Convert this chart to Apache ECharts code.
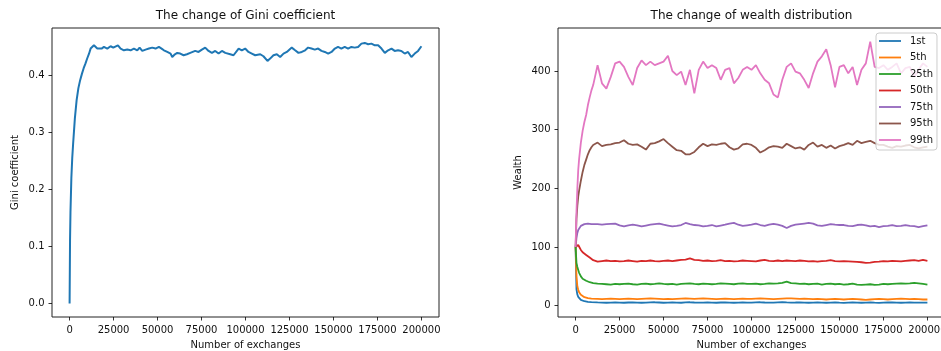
<!DOCTYPE html>
<html><head><meta charset="utf-8">
<script src="https://cdn.jsdelivr.net/npm/echarts@6/dist/echarts.min.js"></script>
<style>html,body{margin:0;padding:0;background:#fff}#c{width:941px;height:351px}</style>
</head><body><div id="c"></div>
<script>
// ---------- data ----------
const titles = ['The change of Gini coefficient', 'The change of wealth distribution'];
const xAxisName = 'Number of exchanges';
const giniAxisName = 'Gini coefficient';
const wealthAxisName = 'Wealth';

const xTicks = [0, 25000, 50000, 75000, 100000, 125000, 150000, 175000, 200000];
const xTickLabels = ['0', '25000', '50000', '75000', '100000', '125000', '150000', '175000', '200000'];
const giniTicks = [0, 0.1, 0.2, 0.3, 0.4];
const giniTickLabels = ['0.0', '0.1', '0.2', '0.3', '0.4'];
const wealthTicks = [0, 100, 200, 300, 400];
const wealthTickLabels = ['0', '100', '200', '300', '400'];

const giniX = [0,250,500,1000,1500,2000,3000,4000,5000,6000,7000,8000,9000,10000,11000,
 11950,13840,15740,16690,18200,19530,21420,23310,24830,27480,29000,30890,32790,34680,36570,38470,39790,41310,43200,45100,46990,48880,50780,52290,53620,55510,57410,58350,59870,61190,
 62900,64800,66700,68600,71400,73300,75200,77100,79000,80900,82800,84700,86600,88500,91300,93200,96100,97900,99800,101700,103600,105500,108400,110200,112500,114000,115900,117800,119700,121600,123500,126300,128200,130100,132000,133900,
 135600,137500,139400,141300,143200,145100,147000,148900,150800,152600,154500,156400,158300,160200,162100,164000,165900,167800,169700,171600,173500,175400,177300,179200,181100,183000,184800,186700,188600,190500,192400,194300,196200,198100,200000];
const giniY = [0,0.11,0.16,0.22,0.255,0.28,0.325,0.357,0.378,0.392,0.403,0.413,0.421,0.43,0.438,
 0.4474,0.4532,0.4474,0.4503,0.4474,0.4503,0.4474,0.4515,0.4491,0.4532,0.4474,0.4444,0.4456,0.4444,0.4474,0.4444,0.4491,0.4433,0.4456,0.4474,0.4491,0.4474,0.4503,0.4474,0.4444,0.4415,0.4386,0.4327,0.4374,0.4398,
 0.4386,0.4357,0.4374,0.4398,0.4433,0.4415,0.4456,0.4491,0.4433,0.4398,0.4433,0.4386,0.4433,0.4398,0.4374,0.4357,0.4474,0.4444,0.4474,0.4415,0.4386,0.4357,0.4374,0.4339,0.4257,0.4298,0.4357,0.4374,0.4327,0.4386,0.4415,0.4491,0.4444,0.4398,0.4415,0.4444,
 0.4491,0.4474,0.4456,0.4474,0.4433,0.4415,0.4386,0.4415,0.4474,0.4503,0.4474,0.4503,0.4474,0.4503,0.4491,0.4503,0.4561,0.4573,0.4550,0.4561,0.4532,0.4532,0.4474,0.4398,0.4444,0.4474,0.4433,0.4444,0.4433,0.4386,0.4415,0.4327,0.4386,0.4433,0.4515];

const wealthX = [0,500,1000,1500,2000,3000,4000,5000,6000,7000,8000,9000,10000,
 12500,15000,17500,20000,22500,25000,27500,30000,32500,35000,37500,40000,42500,45000,47500,50000,52500,55000,57500,60000,62500,65000,67500,70000,72500,75000,77500,80000,82500,85000,87500,90000,92500,95000,97500,
 100000,102500,105000,107500,110000,112500,115000,117500,120000,122500,125000,127500,130000,132500,135000,137500,140000,142500,145000,147500,150000,152500,155000,157500,160000,162500,165000,167500,170000,172500,175000,177500,180000,182500,185000,187500,190000,192500,195000,197500,200000];

const seriesNames = ['1st', '5th', '25th', '50th', '75th', '95th', '99th'];
const p1 = [100,28,19,15,12.5,10,8.5,7.6,7,6.5,6.2,6,5.8,
 5.5,5.2,5,5.3,5.6,5.2,5,5.4,5.7,5.3,5,5.2,5.5,5.8,5.4,5,5.3,5.6,5.2,5,5.5,5.8,5.4,5.1,5.3,5.6,5.2,5,5.4,5.7,5.3,5,5.2,5.5,5.3,
 5.2,5.5,5.8,5.4,5.1,5.3,5.6,5.9,5.5,5.2,5.4,5.7,5.3,5,5.2,5.5,5.3,5,5.2,5.4,5.1,4.9,5.2,5.5,5.3,5,5.2,5.4,5.1,4.9,5.2,5.4,5.6,5.3,5,5.2,5.5,5.3,5.1,5.3,5.2];
const p5 = [100,50,33,27,23,18.5,16,14.5,13.5,12.8,12.3,12,11.8,
 11.5,11,11.5,12,11.5,11,11.5,12,11.5,11,11.5,12,12.5,12,11.5,11,11.5,11,11.5,12,12.5,12,11.5,12,12.5,12,11.5,11,11.5,12,11.5,11,11.5,12,11.5,
 11.5,12,12.5,12,11.5,11,11.5,12,12.5,12.5,12,11.5,12,11.5,11,11.5,11,10.5,11,11.5,11,10.5,11,11.5,11,10.5,10,10.5,11,11.5,11,10.5,11,11.5,12,11.5,11,11.5,11,10.5,10.5];
const p25 = [100,73,66,61,56,50,46,44,42.5,41,40,39.3,38.5,
 37.5,37,36.5,36,37,36.5,37,37.5,36.5,36,37,37.5,36.5,37,38,37,36.5,37,36,37,37.5,38,37,36.5,37.5,37,36.5,37,38,37.5,37,36.5,37.5,38,37,
 37,37.5,36.5,37,38,37.5,38,39,41,38.5,38,37,37.5,36.5,37,37.5,36,37,37.5,36.5,37,36,36.5,37.5,36,35.5,36,36.5,35.5,36,37,36.5,37,37.5,38,37.5,38,39,38,37,36];
const p50 = [100,102,103,103.5,102,95,91,88.5,86.5,84,82,79.5,77.5,
 75,76,77,76,76.5,75.5,76,77,76,75,76.5,76,77,76,75.5,76.5,77,76,77,78,78.5,80.5,78,77.5,76.5,77,76,76.5,77.5,76,76.5,75.5,76,77,76.5,
 76,75.5,77,78,76.5,76,77,76,77,76.5,76,77,76.5,75.5,76,75,76,76.5,77.5,76,75.5,76,75.5,75,74.5,74,73,73.5,74.5,75,76,75.5,76.5,76,75.5,76.5,77,77.5,76.5,78,76.5];
const p75 = [100,115,124,129,132,136,138,139,140,140,139.5,139,139,
 139,138,139,139.5,140,137,135,137,138,137,135,136.5,138,139,140,138,136.5,135,136,137.5,141,139,137.5,137,135,136,137.5,135,136.5,138,140,141,138,136,137,
 138,140,137.5,136,138,139.5,138,136,132.5,136,138,139,140,141,140,137,136,137.5,139,138,137.5,137.5,136,135.5,137.5,138,137,135,136,134,135.5,136,137.5,135.5,136,137.5,136,135.5,134,135.5,137];
const p95 = [100,148,170,186,196,213,228,240,249,258,265,270,274,
 278,272,274,275,277,278,282,276,274,275,271,266,276,277,280,284,277,271,265,264,258,258,262,270,276,272,275,274,276,277,270,266,268,275,276,
 274,269,261,265,270,272,271,269,276,272,268,270,266,274,278,271,274,269,273,268,272,274,277,274,281,277,279,281,277,274,274,271,269,272,271,273,274,270,268,270,271];
const p99 = [100,160,200,231,250,278,298,313,325,342,355,367,376,
 410,379,370,390,413,416,407,390,376,405,418,410,416,410,413,416,426,400,393,399,376,402,362,402,416,405,410,405,385,402,405,379,388,402,407,
 402,410,396,385,379,360,355,385,407,413,399,396,385,371,396,416,425,437,410,372,407,410,396,407,376,402,413,450,407,405,410,402,407,413,396,405,407,390,402,413,407];
const wealthSeries = [p1, p5, p25, p50, p75, p95, p99];
const seriesColors = ['#1f77b4', '#ff7f0e', '#2ca02c', '#d62728', '#9467bd', '#8c564b', '#e377c2'];

// ---------- chart ----------
const FONT = '"DejaVu Sans", "Liberation Sans", sans-serif';
const TXT = '#111';
const chart = echarts.init(document.getElementById('c'), null, {renderer: 'canvas'});

function pick(ticks, labels) { return v => { const i = ticks.findIndex(t => Math.abs(t - v) < 1e-9); return i >= 0 ? labels[i] : ''; }; }

function xAxisCfg(gi) {
  return {
    gridIndex: gi, type: 'value', min: -10000, max: 210000,
    splitLine: {show: false},
    axisLine: {show: false, onZero: false},
    axisTick: {show: true, customValues: xTicks, length: 3.5, lineStyle: {color: '#000', width: 0.8}},
    axisLabel: {customValues: xTicks, formatter: pick(xTicks, xTickLabels), margin: 8, fontSize: 10, color: TXT, fontFamily: FONT, hideOverlap: false},
    name: xAxisName, nameLocation: 'middle', nameGap: 23,
    nameTextStyle: {fontSize: 10, color: TXT, fontFamily: FONT}
  };
}
function yAxisCfg(gi, min, max, ticks, labels, name, gap) {
  return {
    gridIndex: gi, type: 'value', min: min, max: max,
    splitLine: {show: false},
    axisLine: {show: false, onZero: false},
    axisTick: {show: true, customValues: ticks, length: 3.5, lineStyle: {color: '#000', width: 0.8}},
    axisLabel: {customValues: ticks, formatter: pick(ticks, labels), margin: 7.5, fontSize: 10, color: TXT, fontFamily: FONT},
    name: name, nameLocation: 'middle', nameGap: gap, nameRotate: 90,
    nameTextStyle: {fontSize: 10, color: TXT, fontFamily: FONT}
  };
}

const series = [{
  type: 'line', xAxisIndex: 0, yAxisIndex: 0, name: 'gini',
  data: giniX.map((x, i) => [x, giniY[i]]),
  symbol: 'none', lineStyle: {color: '#1f77b4', width: 2}, itemStyle: {color: '#1f77b4'}
}];
wealthSeries.forEach((arr, k) => {
  series.push({
    type: 'line', xAxisIndex: 1, yAxisIndex: 1, name: seriesNames[k],
    data: wealthX.map((x, i) => [x, arr[i]]),
    symbol: 'none', lineStyle: {color: seriesColors[k], width: 1.8}, itemStyle: {color: seriesColors[k]}
  });
});

chart.setOption({
  animation: false,
  backgroundColor: '#fff',
  grid: [
    {left: 52, top: 28, width: 387, height: 289, show: true, borderColor: '#222', borderWidth: 1, backgroundColor: 'transparent', containLabel: false, outerBoundsMode: 'none'},
    {left: 558, top: 28, width: 387, height: 289, show: true, borderColor: '#222', borderWidth: 1, backgroundColor: 'transparent', containLabel: false, outerBoundsMode: 'none'}
  ],
  xAxis: [xAxisCfg(0), xAxisCfg(1)],
  yAxis: [
    yAxisCfg(0, -0.0235, 0.4835, giniTicks, giniTickLabels, giniAxisName, 32),
    yAxisCfg(1, -19.3, 473.3, wealthTicks, wealthTickLabels, wealthAxisName, 35)
  ],
  legend: {
    data: seriesNames, orient: 'vertical', left: 876, top: 33,
    icon: 'rect', itemWidth: 22, itemHeight: 1.8, itemGap: 6.5,
    padding: [3, 4, 5, 3],
    backgroundColor: 'rgba(255,255,255,0.8)', borderColor: '#cccccc', borderWidth: 1, borderRadius: 3,
    textStyle: {fontSize: 10, lineHeight: 10, color: TXT, fontFamily: FONT, padding: [0, 0, 0, 4]},
    selectedMode: false
  },
  graphic: [
    {type: 'text', x: 245.5, y: 15.5, style: {text: titles[0], font: '12px ' + FONT, fill: TXT, align: 'center', verticalAlign: 'middle'}},
    {type: 'text', x: 751.5, y: 15.5, style: {text: titles[1], font: '12px ' + FONT, fill: TXT, align: 'center', verticalAlign: 'middle'}}
  ],
  series: series
});
</script></body></html>
